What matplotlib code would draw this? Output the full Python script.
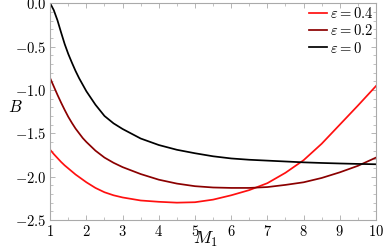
import numpy as np
import matplotlib
matplotlib.use("Agg")
import matplotlib.pyplot as plt
from matplotlib.ticker import MultipleLocator, FuncFormatter

plt.rcParams['mathtext.fontset'] = 'cm'
plt.rcParams['font.family'] = 'DejaVu Serif'

M = [1.0, 1.1, 1.2, 1.3, 1.4, 1.5, 1.6, 1.7, 1.8, 1.9, 2.0, 2.25, 2.5, 2.75, 3.0, 3.5, 4.0, 4.5,
     5.0, 5.5, 6.0, 6.5, 7.0, 7.5, 8.0, 8.5, 9.0, 9.5, 10.0]
B_eps0 = [0.0, -0.08, -0.195, -0.335, -0.47, -0.585, -0.685, -0.78, -0.865, -0.94, -1.015,
          -1.17, -1.30, -1.385, -1.45, -1.56, -1.635, -1.69, -1.73, -1.765, -1.79, -1.805,
          -1.815, -1.825, -1.835, -1.842, -1.848, -1.853, -1.857]
B_eps02 = [-0.865, -0.96, -1.055, -1.145, -1.23, -1.31, -1.38, -1.445, -1.50, -1.555, -1.60,
           -1.70, -1.78, -1.84, -1.89, -1.97, -2.035, -2.08, -2.11, -2.125, -2.13, -2.13,
           -2.12, -2.095, -2.065, -2.015, -1.95, -1.875, -1.78]
B_eps04 = [-1.69, -1.74, -1.785, -1.83, -1.87, -1.905, -1.94, -1.975, -2.005, -2.035, -2.065,
           -2.13, -2.18, -2.215, -2.24, -2.275, -2.29, -2.30, -2.295, -2.265, -2.215, -2.155,
           -2.075, -1.955, -1.81, -1.62, -1.40, -1.18, -0.954]
labels = [r'$\varepsilon = 0.4$', r'$\varepsilon = 0.2$', r'$\varepsilon = 0$']
colors = ['#ff1010', '#8b0000', '#000000']

fig = plt.figure(figsize=(3.9, 2.49), dpi=100)
ax = fig.add_axes([0.1287, 0.1165, 0.8354, 0.8702])

for B, lab, c in zip([B_eps04, B_eps02, B_eps0], labels, colors):
    ax.plot(M, B, color=c, lw=1.25, label=lab, solid_joinstyle='round')

ax.set_xlim(1, 10)
ax.set_ylim(-2.5, 0.0)
ax.xaxis.set_major_locator(MultipleLocator(1))
ax.xaxis.set_minor_locator(MultipleLocator(0.5))
ax.yaxis.set_major_locator(MultipleLocator(0.5))
ax.yaxis.set_minor_locator(MultipleLocator(0.1))
ax.xaxis.set_major_formatter(FuncFormatter(lambda v, p: r'$%d$' % round(v)))
ax.yaxis.set_major_formatter(FuncFormatter(lambda v, p: r'$%.1f$' % v))
ax.tick_params(which='both', direction='in', top=True, right=True, color='#aaaaaa', labelsize=10.5, pad=3)
ax.tick_params(which='major', length=3.5, width=0.6)
ax.tick_params(which='minor', length=2, width=0.5)
for s in ax.spines.values():
    s.set_color('#aaaaaa')
    s.set_linewidth(0.8)

ax.set_xlabel(r'$M_1$', fontsize=13, va='center', ha='center')
ax.xaxis.set_label_coords(0.475, -0.088)
ax.set_ylabel(r'$B$', fontsize=12, rotation=0, va='center', ha='center')
ax.yaxis.set_label_coords(-0.108, 0.517)

leg = ax.legend(loc='upper right', frameon=False, fontsize=10.5, handlelength=1.2, handletextpad=0.2,
                labelspacing=0.15, borderaxespad=0.1, borderpad=0.1)

fig.savefig('out.png', dpi=100)
